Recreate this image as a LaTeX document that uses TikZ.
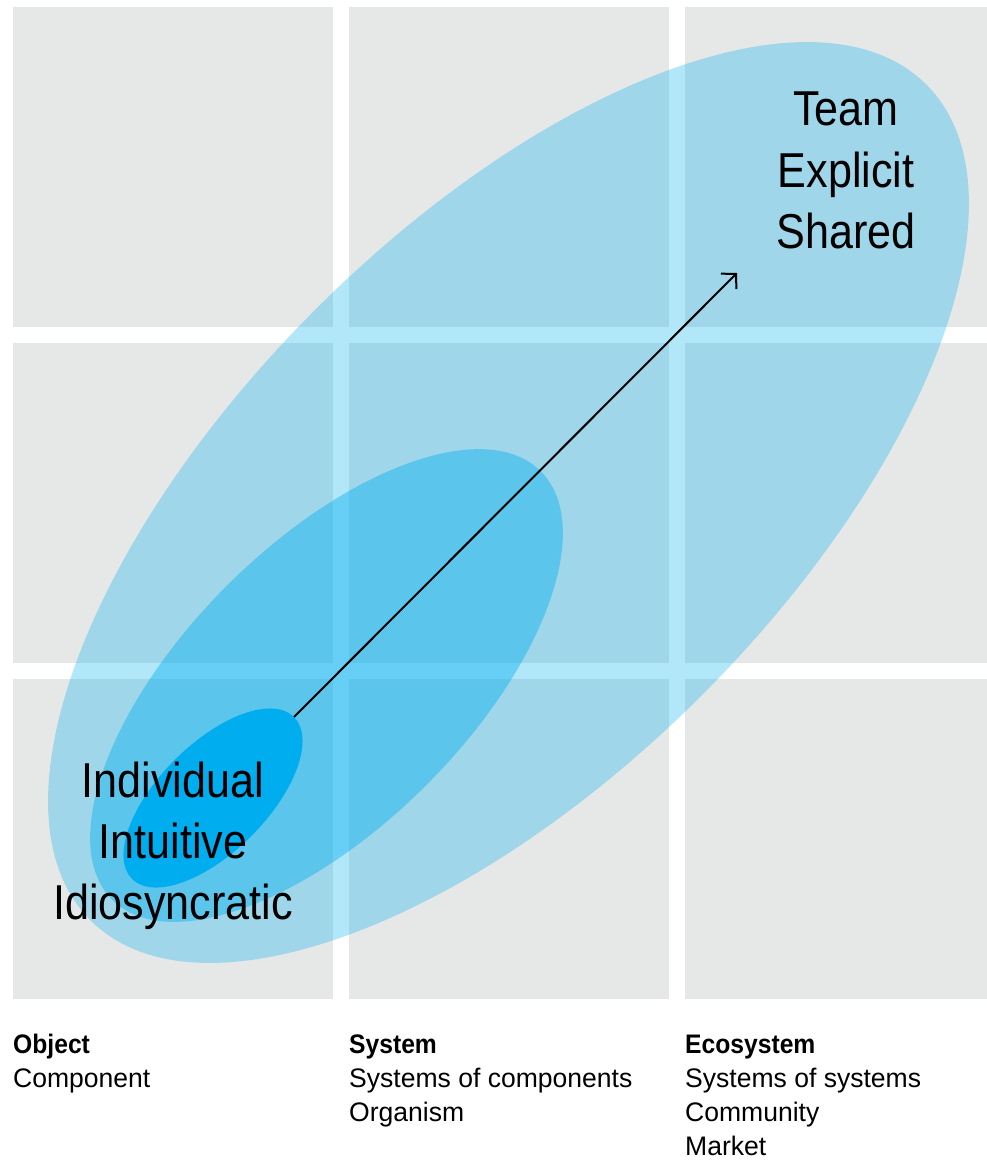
\documentclass[tikz,border=0pt]{standalone}
\usepackage{fontspec}
\setmainfont{Liberation Sans}
\newfontfamily\bigcond{Liberation Sans}[FakeStretch=0.88]
\newfontfamily\smallfont{Liberation Sans}[FakeStretch=0.99]
\newfontfamily\boldcond{Liberation Sans}[FakeStretch=0.92]
\usetikzlibrary{shapes.geometric,arrows.meta}
\definecolor{brandcyan}{RGB}{0,174,239}
\definecolor{gridgray}{RGB}{230,232,232}
\tikzset{
  cell/.style={fill=gridgray},
  blob/.style={ellipse, draw=none, inner sep=0pt, rotate=45, fill=brandcyan},
  bigtext/.style={anchor=base, inner sep=0pt, font=\bigcond\fontsize{49}{49}\selectfont},
  headtext/.style={anchor=base west, inner sep=0pt, font=\boldcond\bfseries\fontsize{26.8}{26.8}\selectfont},
  subtext/.style={anchor=base west, inner sep=0pt, font=\smallfont\fontsize{26.8}{26.8}\selectfont},
  flow/.style={line width=2pt, -{Straight Barb[length=10.5pt,width=22pt,line width=2pt]}}
}
\begin{document}
\begin{tikzpicture}[x=1pt,y=-1pt]
\useasboundingbox (0,0) rectangle (987,1160);
% grid
\foreach \xa/\xb in {13/333,349/669,685/987}{
  \foreach \ya/\yb in {7/327,343/663,679/999}{
    \fill[cell] (\xa,\ya) rectangle (\xb,\yb);
  }
}
% ellipses
\node[blob, fill opacity=0.3, minimum width=1182pt, minimum height=546pt] (outer) at (508.5,502.5) {};
\node[blob, fill opacity=0.42, minimum width=606pt, minimum height=282pt] (middle) at (326.5,685.5) {};
\node[blob, minimum width=229pt, minimum height=108pt] (inner) at (213,798) {};
% arrow
\coordinate (tip) at (737,273);
\draw[flow] (inner.east) -- (tip);
% big labels
\node[bigtext] (team) at (846,125) {Team};
\node[bigtext] (explicit) at (846,187) {Explicit};
\node[bigtext] (shared) at (846,248) {Shared};
\node[bigtext] (individual) at (173,797) {Individual};
\node[bigtext] (intuitive) at (173,858) {Intuitive};
\node[bigtext] (idio) at (173,919) {Idiosyncratic};
% bottom labels
\node[headtext] (object) at (13,1053) {Object};
\node[subtext] (component) at (13,1087) {Component};
\node[headtext] (system) at (349,1053) {System};
\node[subtext] (syscomp) at (349,1087) {Systems of components};
\node[subtext] (organism) at (349,1121) {Organism};
\node[headtext] (ecosystem) at (685,1053) {Ecosystem};
\node[subtext] (syssys) at (685,1087) {Systems of systems};
\node[subtext] (community) at (685,1121) {Community};
\node[subtext] (market) at (685,1155) {Market};
\end{tikzpicture}
\end{document}
